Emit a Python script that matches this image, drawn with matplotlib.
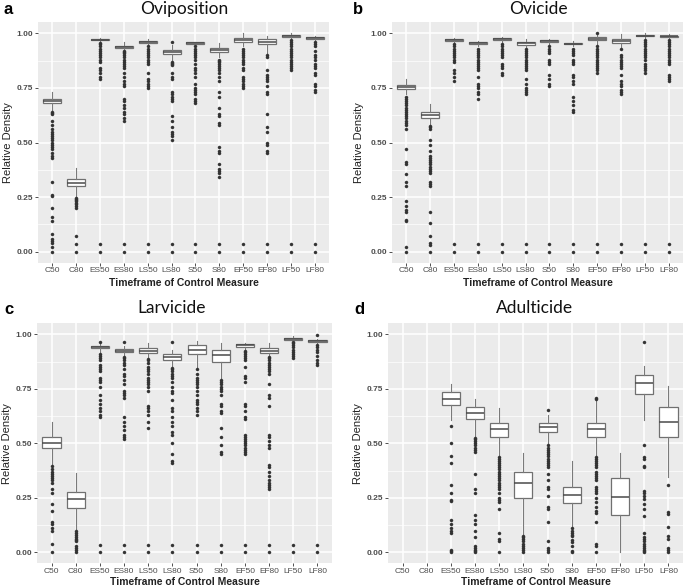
import matplotlib
matplotlib.use("Agg")
import matplotlib.pyplot as plt
from matplotlib.ticker import MultipleLocator

plt.rcParams["font.family"] = ["Liberation Sans", "DejaVu Sans"]

# categories on the x axis
timeframes = ["C50", "C80", "ES50", "ES80", "LS50", "LS80", "S50", "S80", "EF50", "EF80", "LF50", "LF80"]
panel_titles = ["Oviposition", "Ovicide", "Larvicide", "Adulticide"]
panel_letters = ["a", "b", "c", "d"]

# ---- a: Oviposition ----
ovip_q1 = [0.68, 0.30, 0.968, 0.935, 0.957, 0.905, 0.953, 0.915, 0.962, 0.950, 0.985, 0.975]
ovip_med = [0.69, 0.315, 0.970, 0.938, 0.961, 0.915, 0.956, 0.925, 0.970, 0.960, 0.990, 0.978]
ovip_q3 = [0.70, 0.335, 0.972, 0.942, 0.965, 0.925, 0.958, 0.935, 0.980, 0.975, 0.992, 0.982]
ovip_lo = [0.65, 0.25, 0.96, 0.925, 0.945, 0.88, 0.945, 0.89, 0.94, 0.91, 0.975, 0.965]
ovip_hi = [0.73, 0.385, 0.98, 0.96, 0.975, 0.945, 0.962, 0.955, 1.0, 0.99, 1.0, 0.99]
ovip_out = [
    [0.64, 0.635, 0.63, 0.60, 0.58, 0.56, 0.55, 0.54, 0.53, 0.52, 0.51, 0.50, 0.49, 0.48, 0.47, 0.45, 0.44, 0.43,
     0.32, 0.26, 0.255, 0.20, 0.16, 0.14, 0.08, 0.06, 0.05, 0.04, 0.02, 0.0],
    [0.245, 0.24, 0.235, 0.23, 0.225, 0.22, 0.21, 0.20, 0.07, 0.035, 0.0],
    [0.955, 0.95, 0.94, 0.93, 0.92, 0.91, 0.90, 0.89, 0.88, 0.87, 0.84, 0.83, 0.82, 0.80, 0.79, 0.035, 0.0],
    [0.92, 0.915, 0.91, 0.90, 0.89, 0.88, 0.87, 0.86, 0.85, 0.84, 0.82, 0.80, 0.78, 0.77, 0.76, 0.70, 0.69, 0.67,
     0.66, 0.64, 0.63, 0.61, 0.60, 0.035, 0.0],
    [0.94, 0.93, 0.92, 0.91, 0.90, 0.89, 0.88, 0.87, 0.86, 0.82, 0.79, 0.78, 0.77, 0.76, 0.75, 0.035, 0.0],
    [0.96, 0.87, 0.865, 0.86, 0.855, 0.82, 0.80, 0.79, 0.73, 0.72, 0.71, 0.70, 0.69, 0.62, 0.60, 0.57, 0.55, 0.54,
     0.53, 0.51, 0.035, 0.0],
    [0.94, 0.93, 0.92, 0.91, 0.90, 0.89, 0.88, 0.86, 0.84, 0.83, 0.82, 0.80, 0.77, 0.75, 0.74, 0.73, 0.72, 0.70,
     0.69, 0.68, 0.035, 0.0],
    [0.88, 0.875, 0.87, 0.86, 0.85, 0.84, 0.83, 0.82, 0.80, 0.78, 0.73, 0.71, 0.66, 0.63, 0.62, 0.59, 0.58, 0.48,
     0.46, 0.45, 0.40, 0.38, 0.37, 0.36, 0.34, 0.035, 0.0],
    [0.93, 0.92, 0.91, 0.90, 0.89, 0.88, 0.87, 0.86, 0.84, 0.83, 0.80, 0.79, 0.78, 0.77, 0.76, 0.75, 0.035, 0.0],
    [0.90, 0.89, 0.83, 0.81, 0.80, 0.79, 0.78, 0.76, 0.73, 0.72, 0.63, 0.57, 0.55, 0.50, 0.49, 0.46, 0.45, 0.035, 0.0],
    [0.97, 0.96, 0.95, 0.94, 0.93, 0.92, 0.91, 0.90, 0.89, 0.88, 0.87, 0.86, 0.85, 0.84, 0.83, 0.035, 0.0],
    [0.96, 0.95, 0.94, 0.92, 0.90, 0.89, 0.88, 0.86, 0.85, 0.84, 0.82, 0.81, 0.77, 0.76, 0.74, 0.73, 0.035, 0.0],
]

# ---- b: Ovicide ----
ovic_q1 = [0.745, 0.61, 0.965, 0.952, 0.970, 0.947, 0.962, 0.950, 0.968, 0.955, 0.987, 0.983]
ovic_med = [0.755, 0.625, 0.968, 0.955, 0.973, 0.955, 0.965, 0.953, 0.975, 0.965, 0.990, 0.986]
ovic_q3 = [0.765, 0.64, 0.972, 0.958, 0.977, 0.962, 0.968, 0.957, 0.985, 0.975, 0.992, 0.990]
ovic_lo = [0.72, 0.58, 0.955, 0.94, 0.96, 0.935, 0.95, 0.94, 0.945, 0.935, 0.98, 0.975]
ovic_hi = [0.79, 0.675, 0.98, 0.965, 0.985, 0.975, 0.975, 0.965, 0.995, 0.995, 1.0, 0.995]
ovic_out = [
    [0.71, 0.70, 0.69, 0.68, 0.67, 0.66, 0.65, 0.64, 0.63, 0.62, 0.61, 0.60, 0.59, 0.58, 0.56, 0.47, 0.41, 0.40,
     0.355, 0.32, 0.30, 0.23, 0.21, 0.19, 0.18, 0.145, 0.14, 0.02, 0.0],
    [0.575, 0.57, 0.56, 0.51, 0.49, 0.46, 0.44, 0.43, 0.42, 0.41, 0.40, 0.39, 0.38, 0.37, 0.36, 0.32, 0.31, 0.30,
     0.18, 0.13, 0.07, 0.04, 0.03, 0.0],
    [0.95, 0.94, 0.93, 0.92, 0.91, 0.90, 0.89, 0.88, 0.87, 0.83, 0.82, 0.80, 0.78, 0.035, 0.0],
    [0.93, 0.92, 0.91, 0.90, 0.89, 0.88, 0.87, 0.86, 0.85, 0.84, 0.83, 0.80, 0.77, 0.76, 0.75, 0.73, 0.72, 0.70,
     0.035, 0.0],
    [0.95, 0.94, 0.93, 0.92, 0.91, 0.90, 0.89, 0.86, 0.85, 0.84, 0.82, 0.81, 0.035, 0.0],
    [0.93, 0.92, 0.91, 0.90, 0.89, 0.88, 0.87, 0.86, 0.85, 0.84, 0.83, 0.79, 0.77, 0.75, 0.74, 0.73, 0.72, 0.035, 0.0],
    [0.94, 0.93, 0.92, 0.91, 0.88, 0.87, 0.86, 0.81, 0.79, 0.77, 0.76, 0.035, 0.0],
    [0.93, 0.92, 0.91, 0.90, 0.88, 0.87, 0.86, 0.81, 0.80, 0.78, 0.77, 0.71, 0.69, 0.67, 0.65, 0.64, 0.035, 0.0],
    [1.0, 0.94, 0.93, 0.92, 0.91, 0.90, 0.89, 0.88, 0.87, 0.86, 0.85, 0.84, 0.83, 0.82, 0.035, 0.0],
    [0.93, 0.90, 0.89, 0.88, 0.87, 0.86, 0.85, 0.84, 0.81, 0.78, 0.77, 0.76, 0.74, 0.73, 0.72, 0.035, 0.0],
    [0.97, 0.96, 0.95, 0.94, 0.93, 0.92, 0.91, 0.90, 0.89, 0.88, 0.86, 0.85, 0.84, 0.83, 0.82, 0.035, 0.0],
    [0.97, 0.96, 0.95, 0.94, 0.93, 0.92, 0.91, 0.90, 0.89, 0.88, 0.87, 0.86, 0.81, 0.80, 0.79, 0.78, 0.035, 0.0],
]

# ---- c: Larvicide ----
larv_q1 = [0.477, 0.202, 0.935, 0.918, 0.915, 0.880, 0.910, 0.875, 0.942, 0.915, 0.976, 0.966]
larv_med = [0.503, 0.245, 0.940, 0.925, 0.925, 0.895, 0.930, 0.905, 0.950, 0.925, 0.979, 0.970]
larv_q3 = [0.531, 0.278, 0.945, 0.932, 0.935, 0.910, 0.950, 0.930, 0.957, 0.935, 0.982, 0.973]
larv_lo = [0.40, 0.105, 0.92, 0.90, 0.89, 0.85, 0.85, 0.80, 0.93, 0.90, 0.97, 0.955]
larv_hi = [0.60, 0.365, 0.96, 0.945, 0.96, 0.93, 0.97, 0.96, 0.96, 0.96, 0.99, 0.98]
larv_out = [
    [0.395, 0.38, 0.37, 0.36, 0.35, 0.34, 0.33, 0.32, 0.29, 0.27, 0.22, 0.19, 0.14, 0.13, 0.11, 0.10, 0.04, 0.0],
    [0.10, 0.09, 0.08, 0.07, 0.06, 0.055, 0.05, 0.03, 0.02, 0.01, 0.0],
    [0.965, 0.91, 0.90, 0.89, 0.88, 0.86, 0.85, 0.84, 0.83, 0.80, 0.79, 0.78, 0.76, 0.72, 0.70, 0.68, 0.66, 0.65,
     0.63, 0.62, 0.035, 0.0],
    [0.965, 0.895, 0.89, 0.88, 0.87, 0.86, 0.84, 0.82, 0.81, 0.79, 0.77, 0.74, 0.73, 0.72, 0.71, 0.62, 0.60, 0.58,
     0.56, 0.54, 0.53, 0.52, 0.035, 0.0],
    [0.885, 0.88, 0.87, 0.85, 0.84, 0.83, 0.82, 0.80, 0.79, 0.78, 0.77, 0.76, 0.74, 0.67, 0.66, 0.65, 0.63, 0.60,
     0.57, 0.035, 0.0],
    [0.965, 0.845, 0.84, 0.83, 0.82, 0.81, 0.80, 0.78, 0.76, 0.74, 0.73, 0.70, 0.66, 0.65, 0.62, 0.60, 0.58, 0.55,
     0.54, 0.50, 0.45, 0.42, 0.41, 0.035, 0.0],
    [0.84, 0.82, 0.80, 0.79, 0.78, 0.77, 0.76, 0.74, 0.72, 0.70, 0.69, 0.68, 0.66, 0.65, 0.63, 0.035, 0.0],
    [0.79, 0.78, 0.77, 0.76, 0.75, 0.74, 0.72, 0.68, 0.67, 0.65, 0.64, 0.57, 0.53, 0.49, 0.46, 0.45, 0.035, 0.0],
    [0.925, 0.92, 0.91, 0.90, 0.89, 0.88, 0.85, 0.81, 0.80, 0.78, 0.68, 0.67, 0.65, 0.62, 0.61, 0.54, 0.53, 0.52,
     0.51, 0.50, 0.49, 0.48, 0.47, 0.46, 0.45, 0.035, 0.0],
    [0.895, 0.89, 0.88, 0.87, 0.86, 0.85, 0.84, 0.83, 0.82, 0.77, 0.72, 0.71, 0.67, 0.54, 0.53, 0.51, 0.49, 0.48,
     0.40, 0.39, 0.37, 0.35, 0.33, 0.32, 0.31, 0.30, 0.29, 0.035, 0.0],
    [0.965, 0.96, 0.95, 0.94, 0.93, 0.92, 0.91, 0.90, 0.89, 0.035, 0.0],
    [0.995, 0.95, 0.94, 0.93, 0.92, 0.90, 0.88, 0.87, 0.86, 0.035, 0.0],
]

# ---- d: Adulticide (no C50 / C80 data) ----
adul_q1 = [None, None, 0.676, 0.610, 0.531, 0.248, 0.553, 0.225, 0.531, 0.171, 0.726, 0.531]
adul_med = [None, None, 0.703, 0.638, 0.564, 0.320, 0.573, 0.263, 0.565, 0.255, 0.775, 0.596]
adul_q3 = [None, None, 0.737, 0.665, 0.592, 0.367, 0.592, 0.300, 0.595, 0.340, 0.813, 0.668]
adul_lo = [None, None, 0.607, 0.530, 0.440, 0.080, 0.500, 0.115, 0.440, 0.0, 0.605, 0.345]
adul_hi = [None, None, 0.770, 0.703, 0.660, 0.455, 0.630, 0.420, 0.700, 0.455, 0.855, 0.765]
adul_out = [
    [], [],
    [0.58, 0.50, 0.44, 0.41, 0.31, 0.27, 0.24, 0.235, 0.15, 0.13, 0.11, 0.10, 0.09, 0.01, 0.005, 0.0],
    [0.525, 0.52, 0.51, 0.50, 0.49, 0.48, 0.47, 0.46, 0.36, 0.29, 0.27, 0.17, 0.15, 0.13, 0.10, 0.07, 0.03, 0.02,
     0.01, 0.005, 0.0],
    [0.435, 0.43, 0.42, 0.41, 0.40, 0.39, 0.38, 0.37, 0.36, 0.35, 0.34, 0.33, 0.32, 0.31, 0.30, 0.29, 0.27, 0.25,
     0.24, 0.23, 0.20, 0.09, 0.06, 0.05, 0.0],
    [0.075, 0.07, 0.06, 0.05, 0.04, 0.03, 0.02, 0.01, 0.0],
    [0.655, 0.49, 0.48, 0.47, 0.46, 0.45, 0.44, 0.43, 0.42, 0.41, 0.40, 0.39, 0.36, 0.33, 0.30, 0.29, 0.26, 0.21,
     0.20, 0.14, 0.05, 0.02, 0.01, 0.0],
    [0.11, 0.10, 0.09, 0.08, 0.075, 0.055, 0.045, 0.03, 0.005, 0.0],
    [0.71, 0.705, 0.435, 0.43, 0.42, 0.41, 0.40, 0.39, 0.37, 0.36, 0.35, 0.34, 0.33, 0.30, 0.29, 0.28, 0.27, 0.25,
     0.23, 0.21, 0.19, 0.18, 0.14, 0.04, 0.03, 0.0],
    [],
    [0.965, 0.49, 0.435, 0.43, 0.395, 0.39, 0.28, 0.27, 0.26, 0.245, 0.22, 0.20, 0.165, 0.09, 0.07, 0.06, 0.05,
     0.04, 0.03, 0.02, 0.01, 0.005, 0.0],
    [0.31, 0.185, 0.175, 0.115, 0.075, 0.06, 0.02, 0.01, 0.0],
]

panels = [
    (ovip_q1, ovip_med, ovip_q3, ovip_lo, ovip_hi, ovip_out),
    (ovic_q1, ovic_med, ovic_q3, ovic_lo, ovic_hi, ovic_out),
    (larv_q1, larv_med, larv_q3, larv_lo, larv_hi, larv_out),
    (adul_q1, adul_med, adul_q3, adul_lo, adul_hi, adul_out),
]

W, H = 685, 587
# axes boxes in pixels: left, right, top, bottom
boxes_px = [(38, 329, 22.4, 262.6), (392, 683, 22.4, 262.6),
            (37, 332, 323.4, 563.2), (388, 683, 323.4, 563.2)]
title_pos = [(184, 9), (538, 9), (172, 308), (535, 308)]
letter_pos = [(4, 9), (353, 9), (4, 309), (354, 309)]
ylabel_x = [8, 359, 7, 358]
xlabel_y = [283, 283, 582, 582]

fig = plt.figure(figsize=(W / 100, H / 100), dpi=100)

for i, (q1, med, q3, lo, hi, out) in enumerate(panels):
    l, r, t, b = boxes_px[i]
    ax = fig.add_axes([l / W, 1 - b / H, (r - l) / W, (b - t) / H])
    ax.set_facecolor("#EBEBEB")

    stats, pos = [], []
    for k in range(len(timeframes)):
        if med[k] is None:
            continue
        stats.append(dict(med=med[k], q1=q1[k], q3=q3[k], whislo=lo[k], whishi=hi[k], fliers=out[k]))
        pos.append(k + 1)

    ax.bxp(stats, positions=pos, widths=0.75, patch_artist=True, showcaps=False,
           boxprops=dict(facecolor="white", edgecolor="#707070", linewidth=0.9),
           medianprops=dict(color="#4a4a4a", linewidth=1.1),
           whiskerprops=dict(color="#7a7a7a", linewidth=0.8),
           flierprops=dict(marker="o", markerfacecolor="#333333", markeredgecolor="#333333",
                           markeredgewidth=0.3, markersize=2.2, linestyle="none"))

    ax.set_xlim(0.4, len(timeframes) + 0.6)
    ax.set_xticks(range(1, len(timeframes) + 1))
    ax.set_xticklabels(timeframes)
    ax.yaxis.set_minor_locator(MultipleLocator(0.125))
    ax.set_ylim(-0.05, 1.05)
    ax.set_yticks([0, 0.25, 0.5, 0.75, 1.0])
    ax.set_yticklabels(["0.00", "0.25", "0.50", "0.75", "1.00"])

    ax.set_axisbelow(True)
    ax.grid(True, which="major", color="white", linewidth=1.1)
    ax.grid(True, which="minor", axis="y", color="white", linewidth=0.5)
    for s in ax.spines.values():
        s.set_visible(False)
    ax.tick_params(axis="both", which="major", length=2, width=0.6, color="#333333",
                   labelcolor="#4d4d4d", labelsize=6, pad=1.5)
    ax.tick_params(axis="y", which="minor", length=0)
    for lab in ax.get_yticklabels():
        lab.set_fontweight("bold")

    ax.set_xlabel("Timeframe of Control Measure", fontsize=7.5, fontweight="bold", color="#222222")
    ax.xaxis.set_label_coords(0.5, -(xlabel_y[i] - b) / (b - t))
    ax.xaxis.label.set_va("center")
    ax.set_ylabel("Relative Density", fontsize=8, color="#222222")
    ax.yaxis.set_label_coords((ylabel_x[i] - l) / (r - l), 0.5)
    ax.yaxis.label.set_va("center")

    tx, ty = title_pos[i]
    fig.text(tx / W, 1 - ty / H, panel_titles[i], ha="center", va="center",
             fontsize=12.5, family=["Lato", "DejaVu Sans"], color="#111111")
    lx, ly = letter_pos[i]
    fig.text(lx / W, 1 - ly / H, panel_letters[i], ha="left", va="center",
             fontsize=12, fontweight="bold", color="black")

fig.savefig("out.png", dpi=100)
